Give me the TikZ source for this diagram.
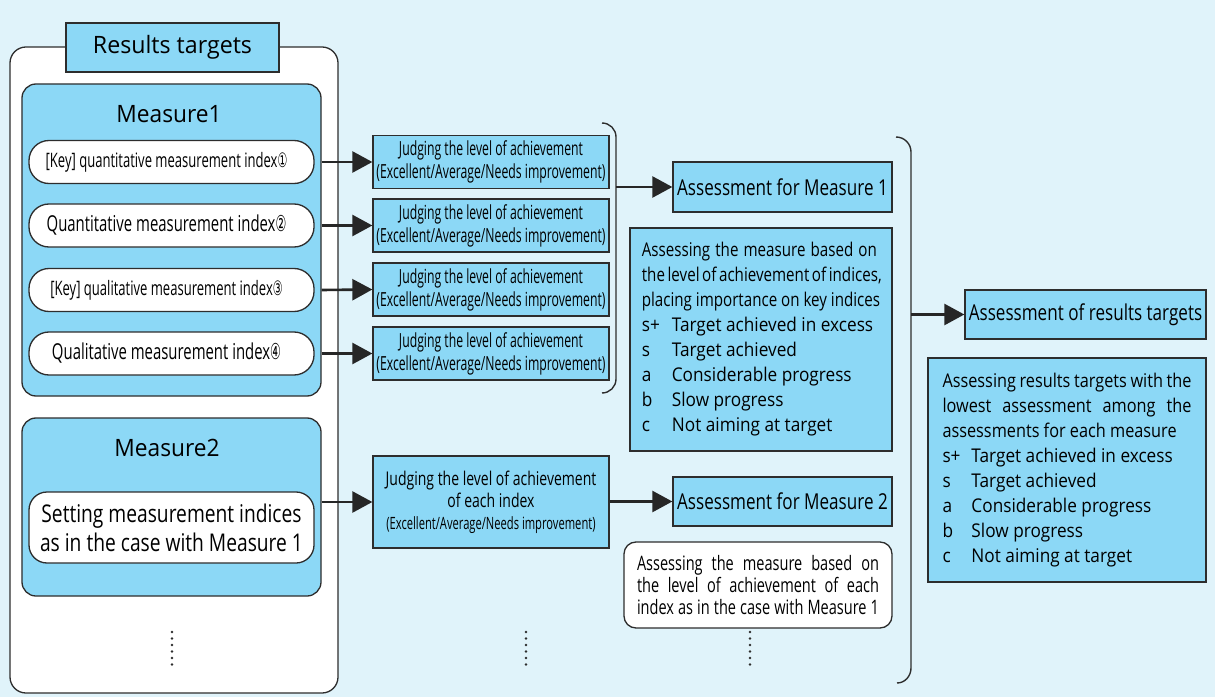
\documentclass[tikz,border=0pt]{standalone}
\usepackage{fontspec}
\setmainfont{Open Sans}
\newfontfamily\fRT[FakeStretch=0.97]{Open Sans}
\newfontfamily\fMe[FakeStretch=0.95]{Open Sans}
\newfontfamily\fPa[FakeStretch=0.655]{Open Sans}
\newfontfamily\fPb[FakeStretch=0.68]{Open Sans}
\newfontfamily\fPc[FakeStretch=0.787]{Open Sans}
\newfontfamily\fJ[FakeStretch=0.63]{Open Sans}
\newfontfamily\fJb[FakeStretch=0.74]{Open Sans}
\newfontfamily\fJc[FakeStretch=0.66]{Open Sans}
\newfontfamily\fAs[FakeStretch=0.78]{Open Sans}
\newfontfamily\fTa[FakeStretch=0.80]{Open Sans}
\newfontfamily\fLi[FakeStretch=0.91]{Open Sans}
\newfontfamily\fRa[FakeStretch=0.86]{Open Sans}
\newfontfamily\fWa[FakeStretch=0.73]{Open Sans}
\newfontfamily\fC[FakeStretch=0.55]{DejaVu Sans}
\usetikzlibrary{arrows.meta}
\definecolor{bg}{RGB}{224,243,250}
\definecolor{bl}{RGB}{140,216,246}
\definecolor{bd}{RGB}{45,45,45}
\begin{document}
\begin{tikzpicture}[x=1bp,y=-1bp,
  box/.style={draw=bd,fill=bl,line width=1.3bp,inner sep=0pt},
  wbox/.style={draw=bd,fill=white,line width=1.3bp,inner sep=0pt},
  pill/.style={draw=bd,fill=white,line width=1.3bp,rounded corners=20bp,inner sep=0pt},
  arr/.style={line width=2.6bp,draw=black!85,-{Triangle[length=20bp,width=21bp]}},
  brk/.style={line width=1.4bp,draw=bd},
  dots/.style={line width=2.6bp,dash pattern=on 0pt off 6.5bp,line cap=round,draw=bd},
  jfont/.style={font=\fJ\fontsize{19.5}{23}\selectfont},
  pfontA/.style={font=\fPa\fontsize{20}{23}\selectfont},
  pfontB/.style={font=\fPb\fontsize{22}{25}\selectfont},
  afont/.style={font=\fAs\fontsize{22}{26}\selectfont}]
\useasboundingbox (0,0) rectangle (1215,697);
\fill[bg] (0,0) rectangle (1215,697);

% outer frame
\node[wbox,rounded corners=16bp,minimum width=328bp,minimum height=646bp] (outer) at (174,370) {};
\node[box,minimum width=213bp,minimum height=49bp,font=\fRT\fontsize{24}{28}\selectfont] (rt) at (172.5,47.5) {Results targets};

% Measure 1
\node[box,rounded corners=14bp,minimum width=299bp,minimum height=312bp] (m1) at (171.5,240) {};
\node[font=\fMe\fontsize{24}{28}\selectfont] (m1t) at (169,114.5) {Measure1};
\node[pill,minimum width=285bp,minimum height=43bp,pfontA] (p1) at (171.5,162) {[Key] quantitative measurement index{\fC ①}\hspace*{10bp}};
\node[pill,minimum width=285bp,minimum height=43bp,pfontB] (p2) at (171.5,225.5) {Quantitative measurement index{\fC ②}\hspace*{10bp}};
\node[pill,minimum width=285bp,minimum height=43bp,pfontA] (p3) at (171.5,290) {[Key] qualitative measurement index{\fC ③}\hspace*{10bp}};
\node[pill,minimum width=285bp,minimum height=43bp,pfontB] (p4) at (171.5,353.5) {Qualitative measurement index{\fC ④}\hspace*{10bp}};

% judging boxes
\node[box,minimum width=236bp,minimum height=53bp,align=center,jfont] (j1) at (491,162) {Judging the level of achievement\\(Excellent/Average/Needs improvement)};
\node[box,minimum width=236bp,minimum height=53bp,align=center,jfont] (j2) at (491,225.5) {Judging the level of achievement\\(Excellent/Average/Needs improvement)};
\node[box,minimum width=236bp,minimum height=53bp,align=center,jfont] (j3) at (491,289.5) {Judging the level of achievement\\(Excellent/Average/Needs improvement)};
\node[box,minimum width=236bp,minimum height=53bp,align=center,jfont] (j4) at (491,353.5) {Judging the level of achievement\\(Excellent/Average/Needs improvement)};

\draw[arr] (p1.east -| m1.east) -- (j1.west);
\draw[arr] (p2.east -| m1.east) -- (j2.west);
\draw[arr] (p3.east -| m1.east) -- (j3.west);
\draw[arr] (p4.east -| m1.east) -- (j4.west);

% bracket 1
\draw[brk] (602,123) to[out=0,in=90] (616,137) -- (616,379) to[out=-90,in=0] (602,393);
\coordinate (b1m) at (616,187);

\node[box,minimum width=219bp,minimum height=50bp,afont] (a1) at (782.5,187) {Assessment for Measure 1};
\draw[arr] (b1m) -- (a1.west);

\node[box,minimum width=262bp,minimum height=223bp] (t1) at (761,339.5) {\parbox{235bp}{\fontsize{19}{25.1}\selectfont
\hbox to 235bp{\fTa Assessing \hfill the \hfill measure \hfill based \hfill on}
\hbox to 235bp{\fTa the \hfill level \hfill of \hfill achievement \hfill of \hfill indices,}
\hbox{\fTa placing importance on key indices}
\hbox{\fLi\makebox[30bp][l]{s+}Target achieved in excess}
\hbox{\fLi\makebox[30bp][l]{s}Target achieved}
\hbox{\fLi\makebox[30bp][l]{a}Considerable progress}
\hbox{\fLi\makebox[30bp][l]{b}Slow progress}
\hbox{\fLi\makebox[30bp][l]{c}Not aiming at target}}};

% bracket 2
\draw[brk] (896,137) to[out=0,in=90] (911,152) -- (911,668) to[out=-90,in=0] (897,683);
\coordinate (b2m) at (911,314.5);
\node[box,minimum width=241bp,minimum height=49bp,afont] (res) at (1085.5,314.5) {Assessment of results targets};
\draw[arr] (b2m) -- (res.west);

\node[box,minimum width=278bp,minimum height=224bp] (t2) at (1067,470) {\parbox{249bp}{\fontsize{19}{25.1}\selectfont
\hbox to 249bp{\fRa Assessing \hfill results \hfill targets \hfill with \hfill the}
\hbox to 249bp{\fRa lowest \hfill assessment \hfill among \hfill the}
\hbox{\fRa assessments for each measure}
\hbox{\fLi\makebox[29bp][l]{s+}Target achieved in excess}
\hbox{\fLi\makebox[29bp][l]{s}Target achieved}
\hbox{\fLi\makebox[29bp][l]{a}Considerable progress}
\hbox{\fLi\makebox[29bp][l]{b}Slow progress}
\hbox{\fLi\makebox[29bp][l]{c}Not aiming at target}}};

% Measure 2
\node[box,rounded corners=14bp,minimum width=299bp,minimum height=178bp] (m2) at (171.5,507) {};
\node[font=\fMe\fontsize{24}{28}\selectfont] (m2t) at (167,448) {Measure2};
\node[pill,rounded corners=18bp,minimum width=285bp,minimum height=71bp,align=center,font=\fPc\fontsize{24.5}{29}\selectfont] (p5) at (171.5,527.5) {Setting measurement indices\\as in the case with Measure 1};

\node[box,minimum width=236bp,minimum height=92bp,align=center,font=\fJb\fontsize{19}{22}\selectfont] (j5) at (491,502) {Judging the level of achievement\\of each index\\{\fJc\fontsize{17}{21}\selectfont (Excellent/Average/Needs improvement)}};
\draw[arr] (j5.west -| m2.east) -- (j5.west);

\node[box,minimum width=219bp,minimum height=49bp,afont] (a2) at (782.5,501.5) {Assessment for Measure 2};
\draw[arr] (j5.east |- a2.west) -- (a2.west);

\node[wbox,rounded corners=12bp,minimum width=268bp,minimum height=86bp] (w2) at (758,585) {\parbox{242bp}{\fontsize{20}{22.5}\selectfont
\hbox to 242bp{\fWa Assessing \hfill the \hfill measure \hfill based \hfill on}
\hbox to 242bp{\fWa the \hfill level \hfill of \hfill achievement \hfill of \hfill each}
\hbox to 242bp{\fWa index \hfill as \hfill in \hfill the \hfill case \hfill with \hfill Measure \hfill 1}}};

% continuation dots
\draw[dots] (172,632) -- (172,670);
\draw[dots] (526,632) -- (526,670);
\draw[dots] (750,632) -- (750,670);
\end{tikzpicture}
\end{document}
